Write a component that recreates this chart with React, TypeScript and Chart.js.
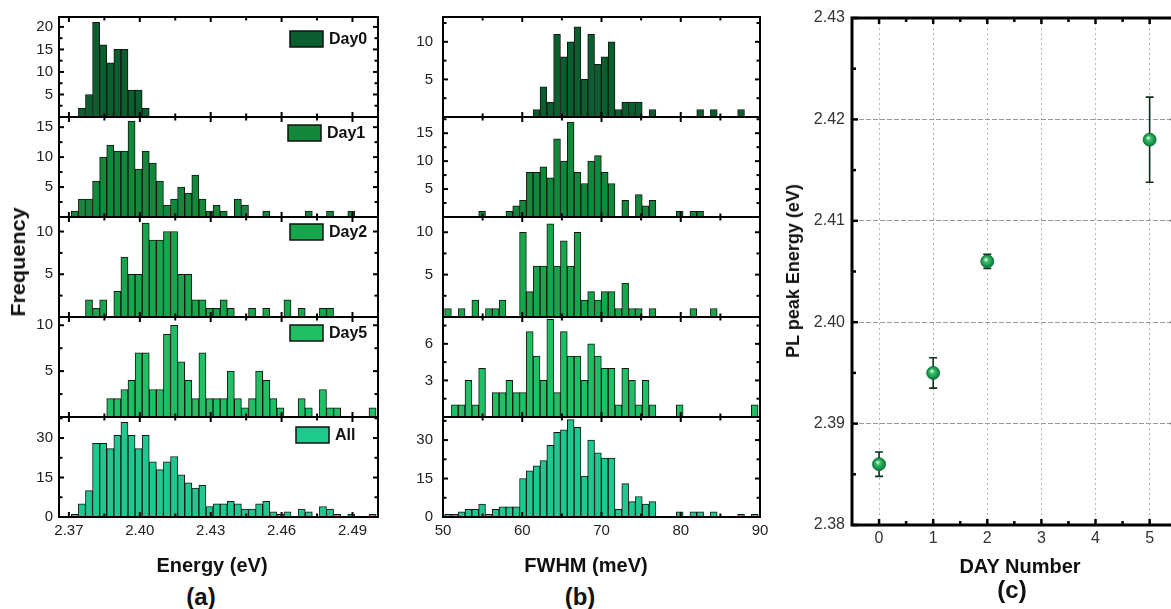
import React, { useEffect, useRef } from 'react';
import { Chart, registerables } from 'chart.js';
Chart.register(...registerables);

const FONT = '"Liberation Sans", Arial, Helvetica, sans-serif';

// ---------- Panel (a): PL peak energy histograms ----------
const energyBins = [2.3725, 2.3755, 2.3785, 2.3815, 2.3845, 2.3875, 2.3905, 2.3935, 2.3965, 2.3995, 2.4025, 2.4055, 2.4085, 2.4115, 2.4145, 2.4175, 2.4205, 2.4235, 2.4265, 2.4295, 2.4325, 2.4355, 2.4385, 2.4415, 2.4445, 2.4475, 2.4505, 2.4535, 2.4565, 2.4595, 2.4625, 2.4655, 2.4685, 2.4715, 2.4745, 2.4775, 2.4805, 2.4835, 2.4865, 2.4895, 2.4925, 2.4955, 2.4985];
const energyDay0 = [0, 2, 5, 21, 16, 12, 15, 15, 6, 6, 2, 0, 0, 0, 0, 0, 0, 0, 0, 0, 0, 0, 0, 0, 0, 0, 0, 0, 0, 0, 0, 0, 0, 0, 0, 0, 0, 0, 0, 0, 0, 0, 0];
const energyDay1 = [1, 3, 3, 6, 10, 12, 11, 11, 16, 8, 11, 9, 6, 2, 3, 5, 4, 7, 3, 1, 2, 1, 0, 3, 2, 0, 0, 1, 0, 0, 0, 0, 0, 1, 0, 0, 1, 0, 0, 1, 0, 0, 0];
const energyDay2 = [0, 0, 2, 1, 2, 0, 3, 7, 5, 5, 11, 9, 9, 10, 10, 5, 5, 2, 2, 1, 1, 2, 1, 0, 0, 1, 0, 1, 0, 0, 2, 0, 1, 0, 0, 1, 1, 0, 0, 0, 0, 0, 0];
const energyDay5 = [0, 0, 0, 0, 0, 2, 2, 3, 4, 7, 7, 3, 3, 9, 10, 6, 4, 2, 7, 2, 2, 2, 5, 2, 1, 2, 5, 4, 2, 1, 0, 0, 2, 1, 0, 3, 1, 1, 0, 0, 0, 0, 1];
const energyAll = [1, 5, 10, 28, 28, 26, 31, 36, 31, 26, 31, 21, 18, 21, 23, 16, 13, 11, 12, 4, 5, 5, 6, 5, 3, 3, 5, 6, 2, 1, 2, 0, 3, 2, 0, 4, 3, 1, 0, 1, 0, 0, 1];
const energyTicks = [2.37, 2.40, 2.43, 2.46, 2.49];
const energyMinor = [2.385, 2.415, 2.445, 2.475];

// ---------- Panel (b): FWHM histograms ----------
const fwhmBins = [50.63, 51.49, 52.35, 53.21, 54.07, 54.93, 55.79, 56.65, 57.51, 58.37, 59.23, 60.09, 60.95, 61.81, 62.67, 63.53, 64.39, 65.25, 66.11, 66.97, 67.83, 68.69, 69.55, 70.41, 71.27, 72.13, 72.99, 73.85, 74.71, 75.57, 76.43, 77.29, 78.15, 79.01, 79.87, 80.73, 81.59, 82.45, 83.31, 84.17, 85.03, 85.89, 86.75, 87.61, 88.47, 89.33];
const fwhmDay0 = [0, 0, 0, 0, 0, 0, 0, 0, 0, 0, 0, 0, 0, 1, 4, 2, 11, 8, 10, 12, 5, 11, 7, 8, 10, 1, 2, 2, 2, 0, 1, 0, 0, 0, 0, 0, 0, 1, 0, 1, 0, 0, 0, 1, 0, 0];
const fwhmDay1 = [0, 0, 0, 0, 0, 1, 0, 0, 0, 1, 2, 3, 8, 8, 9, 7, 14, 10, 17, 8, 6, 10, 11, 8, 6, 0, 3, 0, 4, 2, 3, 0, 0, 0, 1, 0, 1, 1, 0, 0, 0, 0, 0, 0, 0, 0];
const fwhmDay2 = [1, 0, 1, 0, 2, 0, 1, 1, 2, 0, 0, 10, 3, 6, 6, 11, 6, 9, 6, 10, 2, 3, 2, 3, 3, 1, 4, 1, 1, 0, 1, 0, 0, 0, 0, 0, 1, 0, 0, 1, 0, 0, 0, 0, 0, 0];
const fwhmDay5 = [0, 1, 1, 3, 1, 4, 0, 2, 2, 3, 2, 2, 7, 5, 3, 8, 2, 7, 5, 5, 3, 6, 5, 4, 4, 1, 4, 3, 1, 3, 1, 0, 0, 0, 1, 0, 0, 0, 0, 0, 0, 0, 0, 0, 0, 1];
const fwhmAll = [1, 1, 2, 3, 3, 5, 1, 3, 4, 4, 4, 15, 18, 20, 22, 28, 33, 34, 38, 35, 16, 30, 25, 23, 23, 3, 13, 6, 8, 5, 6, 0, 0, 0, 2, 0, 2, 2, 0, 2, 0, 0, 0, 1, 0, 1];
const fwhmTicks = [50, 60, 70, 80, 90];
const fwhmMinor = [55, 65, 75, 85];

// ---------- Panel (c): PL peak energy vs day ----------
const dayNumbers = [0, 1, 2, 5];
const peakEnergy = [2.386, 2.395, 2.406, 2.418];
const peakError = [0.0012, 0.0015, 0.0007, 0.0042];
const dayTicks = [0, 1, 2, 3, 4, 5];
const dayMinor = [0.5, 1.5, 2.5, 3.5, 4.5, 5.5];
const peakTicks = [2.38, 2.39, 2.40, 2.41, 2.42, 2.43];
const peakMinor = [2.385, 2.395, 2.405, 2.415, 2.425];

const seriesLabels = ['Day0', 'Day1', 'Day2', 'Day5', 'All'];
const seriesColors = ['#0b5e2e', '#11883a', '#17a64b', '#1fbf64', '#1fc98e'];

const framePlugin = {
  id: 'frame',
  afterDraw(chart: any, _a: any, o: any) {
    const { ctx, chartArea } = chart;
    const { left, right, top, bottom } = chartArea;
    const xs = chart.scales.x, ys = chart.scales.y;
    ctx.save();
    ctx.strokeStyle = '#000';
    ctx.lineCap = 'butt';
    const line = (x1: number, y1: number, x2: number, y2: number) => {
      ctx.beginPath(); ctx.moveTo(x1, y1); ctx.lineTo(x2, y2); ctx.stroke();
    };
    ctx.lineWidth = o.tickWidth;
    const doX = (vals: number[], len: number) => vals.forEach((v) => {
      const p = xs.getPixelForValue(v);
      if (p < left - 0.5 || p > right + 0.5) return;
      line(p, bottom, p, bottom - len);
      line(p, top, p, top + len);
    });
    const doY = (vals: number[], len: number) => vals.forEach((v) => {
      const p = ys.getPixelForValue(v);
      if (p < top - 0.5 || p > bottom + 0.5) return;
      line(left, p, left + len, p);
      line(right, p, right - len, p);
    });
    doX(o.xMajor, o.major); doX(o.xMinor, o.minor);
    doY(o.yMajor, o.major); doY(o.yMinor, o.minor);
    ctx.lineWidth = o.lineWidth;
    ctx.strokeRect(left, top, right - left, bottom - top);
    ctx.restore();
  },
};

const boxLegendPlugin = {
  id: 'boxLegend',
  afterDraw(chart: any, _a: any, o: any) {
    if (!o || !o.show) return;
    const { ctx, chartArea } = chart;
    const ds = chart.data.datasets[0];
    const x = chartArea.right - o.dx;
    const y = chartArea.top + o.dy;
    ctx.save();
    ctx.fillStyle = ds.backgroundColor;
    ctx.fillRect(x, y, 33, 16);
    ctx.strokeStyle = '#111';
    ctx.lineWidth = 1.5;
    ctx.strokeRect(x, y, 33, 16);
    ctx.fillStyle = '#111';
    ctx.font = 'bold 16px ' + FONT;
    ctx.textBaseline = 'middle';
    ctx.textAlign = 'left';
    ctx.fillText(ds.label, x + 39, y + 8.5);
    ctx.restore();
  },
};

const errorBarPlugin = {
  id: 'errorBars',
  beforeDatasetsDraw(chart: any) {
    const { ctx } = chart;
    const xs = chart.scales.x, ys = chart.scales.y;
    ctx.save();
    ctx.strokeStyle = '#0d2f1c';
    ctx.lineWidth = 1.6;
    dayNumbers.forEach((d, i) => {
      const px = xs.getPixelForValue(d);
      const y1 = ys.getPixelForValue(peakEnergy[i] - peakError[i]);
      const y2 = ys.getPixelForValue(peakEnergy[i] + peakError[i]);
      ctx.beginPath();
      ctx.moveTo(px, y1); ctx.lineTo(px, y2);
      ctx.moveTo(px - 4, y1); ctx.lineTo(px + 4, y1);
      ctx.moveTo(px - 4, y2); ctx.lineTo(px + 4, y2);
      ctx.stroke();
    });
    ctx.restore();
  },
};

type HistSpec = {
  bins: number[]; values: number[]; label: string; color: string;
  xMin: number; xMax: number; xTicks: number[]; xMinor: number[]; xFmt: (v: number) => string;
  yMax: number; yTicks: number[]; yMinor: number[];
  showX: boolean; yWidth: number; yPad: number; legend?: { dx: number; dy: number };
};

const PAD = 24;
const XAXIS_H = 28;

function histConfig(p: HistSpec): any {
  const xScale: any = {
    type: 'linear', min: p.xMin, max: p.xMax, offset: false, display: p.showX,
    grid: { display: false, drawTicks: false, offset: false },
    border: { display: false },
    ticks: { font: { family: FONT, size: 15 }, color: '#222', padding: 5, maxRotation: 0, autoSkip: false, callback: (v: any) => p.xFmt(Number(v)) },
    afterBuildTicks: (s: any) => { s.ticks = p.xTicks.map((v) => ({ value: v })); },
  };
  if (p.showX) xScale.afterFit = (s: any) => { s.height = XAXIS_H; };
  return {
    type: 'bar',
    data: {
      datasets: [{
        label: p.label,
        data: p.bins.map((x, i) => ({ x, y: p.values[i] })),
        backgroundColor: p.color,
        borderColor: '#151515',
        borderWidth: 1,
        categoryPercentage: 1,
        barPercentage: 1,
      }],
    },
    options: {
      animation: false,
      responsive: false,
      maintainAspectRatio: false,
      layout: { padding: { top: PAD, right: PAD, bottom: p.showX ? 0 : PAD, left: 0 } },
      plugins: {
        legend: { display: false },
        tooltip: { enabled: false },
        frame: { lineWidth: 2, tickWidth: 2, major: 5, minor: 3.5, xMajor: p.xTicks, xMinor: p.xMinor, yMajor: p.yTicks, yMinor: p.yMinor },
        boxLegend: p.legend ? { show: true, dx: p.legend.dx, dy: p.legend.dy } : { show: false },
      },
      scales: {
        x: xScale,
        y: {
          type: 'linear', min: 0, max: p.yMax,
          grid: { display: false, drawTicks: false },
          border: { display: false },
          ticks: { font: { family: FONT, size: 15 }, color: '#222', padding: p.yPad, autoSkip: false },
          afterBuildTicks: (s: any) => { s.ticks = p.yTicks.map((v) => ({ value: v })); },
          afterFit: (s: any) => { s.width = p.yWidth; },
        },
      },
    },
    plugins: [framePlugin, boxLegendPlugin],
  };
}

const C_PAD_TOP = 24;

function scatterConfig(): any {
  const pointFill = (c: any) => {
    const chart = c.chart;
    const xs = chart.scales && chart.scales.x, ys = chart.scales && chart.scales.y;
    if (!c.parsed || !xs || !ys) return '#16914a';
    const px = xs.getPixelForValue(c.parsed.x), py = ys.getPixelForValue(c.parsed.y);
    if (!isFinite(px) || !isFinite(py)) return '#16914a';
    const g = chart.ctx.createRadialGradient(px - 1.5, py - 2, 0.3, px, py, 7);
    g.addColorStop(0, '#e6fbec');
    g.addColorStop(0.3, '#3cbf6e');
    g.addColorStop(0.75, '#149146');
    g.addColorStop(1, '#0b6c33');
    return g;
  };
  return {
    type: 'scatter',
    data: {
      datasets: [{
        data: dayNumbers.map((d, i) => ({ x: d, y: peakEnergy[i] })),
        pointRadius: 6.5,
        pointBackgroundColor: pointFill,
        pointBorderColor: '#0d6a34',
        pointBorderWidth: 0.8,
      }],
    },
    options: {
      animation: false,
      responsive: false,
      maintainAspectRatio: false,
      layout: { padding: { top: C_PAD_TOP, right: 4, bottom: 0, left: 0 } },
      plugins: {
        legend: { display: false },
        tooltip: { enabled: false },
        frame: { lineWidth: 3, tickWidth: 2.5, major: 6, minor: 4, xMajor: dayTicks, xMinor: dayMinor, yMajor: peakTicks, yMinor: peakMinor },
      },
      scales: {
        x: {
          type: 'linear', min: -0.5, max: 5.5,
          grid: { color: '#b5b5b5', lineWidth: 1, drawTicks: false },
          border: { display: false, dash: [2, 3] },
          ticks: { font: { family: FONT, size: 16 }, color: '#333', padding: 4, autoSkip: false, callback: (v: any) => String(v) },
          afterBuildTicks: (s: any) => { s.ticks = dayTicks.map((v) => ({ value: v })); },
          afterFit: (s: any) => { s.height = 28; },
        },
        y: {
          type: 'linear', min: 2.38, max: 2.43,
          grid: { color: '#9a9a9a', lineWidth: 1, drawTicks: false },
          border: { display: false, dash: [5, 2] },
          ticks: { font: { family: FONT, size: 16 }, color: '#333', padding: 7, autoSkip: false, callback: (v: any) => Number(v).toFixed(2) },
          afterBuildTicks: (s: any) => { s.ticks = peakTicks.map((v) => ({ value: v })); },
          afterFit: (s: any) => { s.width = 82; },
        },
      },
    },
    plugins: [errorBarPlugin, framePlugin],
  };
}

function ChartCanvas({ make, left, top, width, height }: { make: () => any; left: number; top: number; width: number; height: number }) {
  const ref = useRef<HTMLCanvasElement | null>(null);
  useEffect(() => {
    if (!ref.current) return;
    const chart = new Chart(ref.current, make());
    return () => chart.destroy();
  }, []);
  return <canvas ref={ref} width={width} height={height} style={{ position: 'absolute', left, top, width, height }} />;
}

const PANEL_TOPS = [17, 117, 217, 317, 417];
const PANEL_H = 100;

const energyValues = [energyDay0, energyDay1, energyDay2, energyDay5, energyAll];
const energyYMax = [22.2, 16.7, 11.7, 10.9, 38];
const energyYTicks = [[5, 10, 15, 20], [5, 10, 15], [5, 10], [5, 10], [0, 15, 30]];
const energyYMinor = [[2.5, 7.5, 12.5, 17.5], [2.5, 7.5, 12.5], [2.5, 7.5], [2.5, 7.5], [7.5, 22.5, 37.5]];
const legendPos = [{ dx: 88, dy: 14 }, { dx: 90, dy: 8 }, { dx: 88, dy: 7 }, { dx: 88, dy: 8 }, { dx: 82, dy: 10 }];

const fwhmValues = [fwhmDay0, fwhmDay1, fwhmDay2, fwhmDay5, fwhmAll];
const fwhmYMax = [13.3, 17.9, 11.8, 8.2, 39];
const fwhmYTicks = [[5, 10], [5, 10, 15], [5, 10], [3, 6], [0, 15, 30]];
const fwhmYMinor = [[2.5, 7.5, 12.5], [2.5, 7.5, 12.5, 17.5], [2.5, 7.5], [1.5, 4.5, 7.5], [7.5, 22.5, 37.5]];

const txt = (s: string, cx: number, cy: number, size: number, rotate = false, scale = 1): React.ReactNode => (
  <div key={s} style={{
    position: 'absolute', left: cx, top: cy, whiteSpace: 'nowrap', fontFamily: FONT, fontWeight: 'bold',
    fontSize: size, color: '#111', lineHeight: 1,
    transform: `translate(-50%, -50%)${rotate ? ' rotate(-90deg)' : ''} scaleX(${scale})`,
  }}>{s}</div>
);

export default function App() {
  const panels: React.ReactNode[] = [];
  for (let i = 0; i < 5; i++) {
    const last = i === 4;
    const h = PAD + PANEL_H + (last ? XAXIS_H : PAD);
    panels.push(
      <ChartCanvas key={'a' + i} left={0} top={PANEL_TOPS[i] - PAD} width={378 + PAD} height={h}
        make={() => histConfig({
          bins: energyBins, values: energyValues[i], label: seriesLabels[i], color: seriesColors[i],
          xMin: 2.3658, xMax: 2.5008, xTicks: energyTicks, xMinor: energyMinor, xFmt: (v) => v.toFixed(2),
          yMax: energyYMax[i], yTicks: energyYTicks[i], yMinor: energyYMinor[i],
          showX: last, yWidth: 59, yPad: 6, legend: legendPos[i],
        })} />
    );
    panels.push(
      <ChartCanvas key={'b' + i} left={384} top={PANEL_TOPS[i] - PAD} width={760 - 384 + PAD} height={h}
        make={() => histConfig({
          bins: fwhmBins, values: fwhmValues[i], label: seriesLabels[i], color: seriesColors[i],
          xMin: 50, xMax: 90, xTicks: fwhmTicks, xMinor: fwhmMinor, xFmt: (v) => String(v),
          yMax: fwhmYMax[i], yTicks: fwhmYTicks[i], yMinor: fwhmYMinor[i],
          showX: last, yWidth: 59, yPad: 10,
        })} />
    );
  }
  return (
    <div style={{ position: 'fixed', left: 0, top: 0, width: '100vw', height: '100vh', overflow: 'hidden', background: '#fff' }}>
      {panels}
      <ChartCanvas key="c" left={770} top={18 - C_PAD_TOP} width={82 + 328 + 4} height={C_PAD_TOP + 507 + 28} make={scatterConfig} />
      {txt('Frequency', 18, 262, 20, true, 1.08)}
      {txt('Energy (eV)', 212, 565, 20)}
      {txt('(a)', 201, 597, 24)}
      {txt('FWHM (meV)', 586, 565, 20)}
      {txt('(b)', 580, 597, 24)}
      {txt('PL peak Energy (eV)', 793, 271, 18, true)}
      {txt('DAY Number', 1020, 566, 20)}
      {txt('(c)', 1012, 590, 24)}
    </div>
  );
}
